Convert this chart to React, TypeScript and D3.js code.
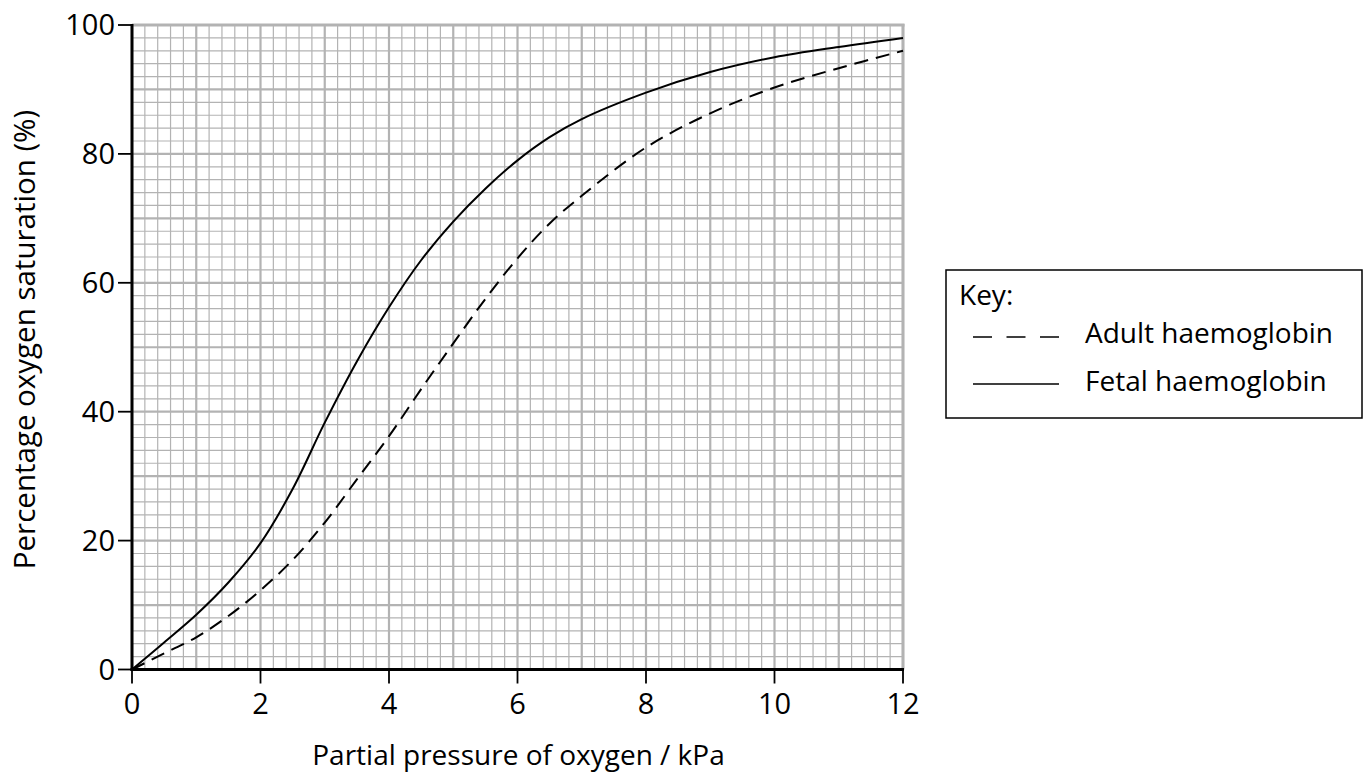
import React from "react";
import * as d3 from "d3";

const pressure = [0, 0.5, 1, 1.5, 2, 2.5, 3, 3.5, 4, 4.5, 5, 5.5, 6, 6.5, 7, 8, 9, 10, 11, 12];
const adult = [0, 2.5, 5, 8.3, 12.3, 17, 22.8, 29.5, 36.2, 43.5, 50.6, 57.5, 63.8, 69.2, 73.5, 81, 86.3, 90.3, 93.3, 96];
const fetal = [0, 4.2, 8.5, 13.5, 19.6, 28, 38.3, 47.8, 56.2, 63.5, 69.5, 74.6, 79, 82.6, 85.4, 89.5, 92.7, 95, 96.6, 98];
const xTicks = [0, 2, 4, 6, 8, 10, 12];
const yTicks = [0, 20, 40, 60, 80, 100];
const seriesNames = ["Adult haemoglobin", "Fetal haemoglobin"];

const W = 1365;
const H = 783;
const FONT = "'Open Sans', 'Noto Sans', sans-serif";

export default function App() {
  const x = d3.scaleLinear().domain([0, 12]).range([132, 903]);
  const y = d3.scaleLinear().domain([0, 100]).range([669.5, 25]);

  const minorX = d3.range(0, 61).map((i) => i * 0.2);
  const minorY = d3.range(0, 51).map((i) => i * 2);

  const line = d3
    .line<number>()
    .x((_, i) => x(pressure[i]))
    .y((d) => y(d))
    .curve(d3.curveCatmullRom.alpha(0.5));

  const gridColor = "#b3b3b3";

  return (
    <svg
      width={W}
      height={H}
      style={{ position: "absolute", left: 0, top: 0, background: "#fff" }}
      fontFamily={FONT}
    >
      <rect x={0} y={0} width={W} height={H} fill="#fff" />
      {/* minor grid */}
      <g stroke={gridColor} strokeWidth={1.2}>
        {minorX.map((v, i) =>
          i % 5 === 0 ? null : (
            <line key={"mx" + i} x1={x(v)} x2={x(v)} y1={y(0)} y2={y(100)} />
          )
        )}
        {minorY.map((v, i) =>
          i % 5 === 0 ? null : (
            <line key={"my" + i} x1={x(0)} x2={x(12)} y1={y(v)} y2={y(v)} />
          )
        )}
      </g>
      {/* major grid */}
      <g stroke={gridColor} strokeWidth={2.2}>
        {minorX.map((v, i) =>
          i % 5 === 0 ? (
            <line key={"Mx" + i} x1={x(v)} x2={x(v)} y1={y(0)} y2={y(100)} />
          ) : null
        )}
        {minorY.map((v, i) =>
          i % 5 === 0 ? (
            <line key={"My" + i} x1={x(0)} x2={x(12)} y1={y(v)} y2={y(v)} />
          ) : null
        )}
      </g>
      <line x1={x(12)} x2={x(12)} y1={y(0)} y2={y(100) - 1} stroke={gridColor} strokeWidth={3} />
      <line x1={x(0)} x2={x(12) + 1.5} y1={y(100)} y2={y(100)} stroke={gridColor} strokeWidth={3} />

      {/* curves */}
      <path d={line(adult) || ""} fill="none" stroke="#000" strokeWidth={2} strokeDasharray="14 8" />
      <path d={line(fetal) || ""} fill="none" stroke="#000" strokeWidth={2} />

      {/* axes */}
      <line x1={x(0)} x2={x(0)} y1={y(0) + 1.5} y2={y(100) - 1} stroke="#000" strokeWidth={3} />
      <line x1={x(0) - 1.5} x2={x(12) + 1} y1={y(0)} y2={y(0)} stroke="#000" strokeWidth={3} />

      {xTicks.map((t) => (
        <g key={"xt" + t}>
          <line x1={x(t)} x2={x(t)} y1={y(0)} y2={y(0) + 14} stroke="#000" strokeWidth={1.8} />
          <text x={x(t)} y={714} textAnchor="middle" fontSize={29} fill="#000">
            {t}
          </text>
        </g>
      ))}
      {yTicks.map((t) => (
        <g key={"yt" + t}>
          <line x1={x(0) - 14} x2={x(0)} y1={y(t)} y2={y(t)} stroke="#000" strokeWidth={1.8} />
          <text x={115} y={y(t)} dy="0.36em" textAnchor="end" fontSize={29} fill="#000">
            {t}
          </text>
        </g>
      ))}

      <text x={518.5} y={765} textAnchor="middle" fontSize={28} fill="#000">
        Partial pressure of oxygen / kPa
      </text>
      <text
        transform={`translate(35, 339.5) rotate(-90)`}
        textAnchor="middle"
        fontSize={29.5}
        fill="#000"
      >
        Percentage oxygen saturation (%)
      </text>

      {/* legend */}
      <rect x={946} y={270} width={416} height={148} fill="#fff" stroke="#000" strokeWidth={1.5} />
      <text x={959} y={305} fontSize={28} fill="#000">
        Key:
      </text>
      <line x1={973} x2={1059} y1={337} y2={337} stroke="#000" strokeWidth={1.5} strokeDasharray="19 14.5" />
      <text x={1085} y={343} fontSize={28} fill="#000">
        {seriesNames[0]}
      </text>
      <line x1={973} x2={1059} y1={384} y2={384} stroke="#000" strokeWidth={1.5} />
      <text x={1085} y={391} fontSize={28} fill="#000">
        {seriesNames[1]}
      </text>
    </svg>
  );
}
